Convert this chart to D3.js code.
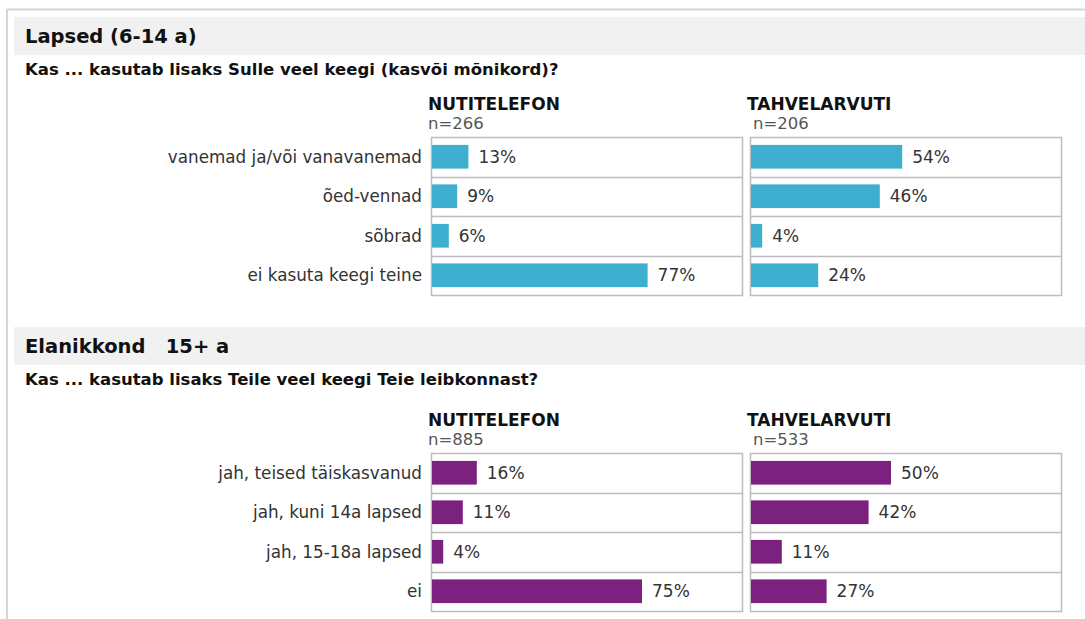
<!DOCTYPE html>
<meta charset="utf-8">
<style>
  body { margin: 0; background: #fff; }
  svg { display: block; font-family: "DejaVu Sans", Verdana, sans-serif; }
</style>
<svg width="1085" height="619"></svg>
<script src="https://d3js.org/d3.v7.min.js"></script>
<script>

var devices = ["NUTITELEFON", "TAHVELARVUTI"];

var kidsTitle = "Lapsed (6-14 a)",
    kidsQuestion = "Kas ... kasutab lisaks Sulle veel keegi (kasvõi mõnikord)?",
    kidsCategories = ["vanemad ja/või vanavanemad", "õed-vennad", "sõbrad", "ei kasuta keegi teine"],
    kidsN = [266, 206],
    kidsPhone = [13, 9, 6, 77],
    kidsTablet = [54, 46, 4, 24];

var adultTitle = "Elanikkond\u00a0\u00a0 15+ a",
    adultQuestion = "Kas ... kasutab lisaks Teile veel keegi Teie leibkonnast?",
    adultCategories = ["jah, teised täiskasvanud", "jah, kuni 14a lapsed", "jah, 15-18a lapsed", "ei"],
    adultN = [885, 533],
    adultPhone = [16, 11, 4, 75],
    adultTablet = [50, 42, 11, 27];

var svg = d3.select("svg"),
    width = +svg.attr("width"),
    height = +svg.attr("height");

// outer frame (top + left edges only visible)
svg.append("line").attr("x1", 7).attr("x2", width).attr("y1", 9.5).attr("y2", 9.5)
    .attr("stroke", "#d6d6d6").attr("stroke-width", 2);
svg.append("line").attr("x1", 7).attr("x2", 7).attr("y1", 9).attr("y2", height)
    .attr("stroke", "#d6d6d6").attr("stroke-width", 2);

var x = d3.scaleLinear().domain([0, 100]).range([0, 280]);

var panelX = [431, 750],
    boxW = 311,
    boxH = 158;

drawSection({
  title: kidsTitle, question: kidsQuestion, categories: kidsCategories,
  n: kidsN, values: [kidsPhone, kidsTablet], color: "#3eafcf",
  bandTop: 17, boxTop: 137
});

drawSection({
  title: adultTitle, question: adultQuestion, categories: adultCategories,
  n: adultN, values: [adultPhone, adultTablet], color: "#7b217e",
  bandTop: 327, boxTop: 453
});

function drawSection(s) {
  var g = svg.append("g");

  g.append("rect")
      .attr("x", 14).attr("y", s.bandTop)
      .attr("width", width - 14).attr("height", 38)
      .attr("fill", "#f1f1f1");

  g.append("text")
      .attr("x", 25).attr("y", s.bandTop + 26)
      .attr("font-size", 19.5).attr("font-weight", "bold").attr("fill", "#111")
      .text(s.title);

  g.append("text")
      .attr("x", 25).attr("y", s.bandTop + 58)
      .attr("font-size", 16.5).attr("font-weight", "bold").attr("fill", "#111")
      .text(s.question);

  var rows = d3.scaleBand().domain(s.categories)
      .range([s.boxTop, s.boxTop + boxH]);
  var y = d3.scaleBand().domain(s.categories)
      .range([s.boxTop, s.boxTop + boxH])
      .paddingInner(0.4).paddingOuter(0.2);

  // category labels
  g.append("g").selectAll("text")
    .data(s.categories)
    .join("text")
      .attr("x", 422)
      .attr("y", function(d) { return y(d) + y.bandwidth() / 2; })
      .attr("dy", "0.36em")
      .attr("text-anchor", "end")
      .attr("font-size", 16.8).attr("fill", "#333")
      .text(function(d) { return d; });

  devices.forEach(function(dev, i) {
    var px = panelX[i];
    var p = g.append("g");

    p.append("text")
        .attr("x", px - 3).attr("y", s.boxTop - 27)
        .attr("font-size", 17).attr("font-weight", "bold").attr("fill", "#111")
        .text(dev);
    p.append("text")
        .attr("x", px - 3 + (i ? 6 : 0)).attr("y", s.boxTop - 8)
        .attr("font-size", 16.5).attr("fill", "#555")
        .text("n=" + s.n[i]);

    p.append("rect")
        .attr("x", px + 0.5).attr("y", s.boxTop + 0.5)
        .attr("width", boxW).attr("height", boxH)
        .attr("fill", "#fff").attr("stroke", "#bdbdbd").attr("stroke-width", 1.5);

    p.selectAll("line.sep")
      .data(s.categories.slice(1))
      .join("line")
        .attr("class", "sep")
        .attr("x1", px).attr("x2", px + boxW)
        .attr("y1", function(d) { return Math.round(rows(d)) + 0.5; })
        .attr("y2", function(d) { return Math.round(rows(d)) + 0.5; })
        .attr("stroke", "#bdbdbd").attr("stroke-width", 1.5);

    var data = s.categories.map(function(c, j) { return {cat: c, v: s.values[i][j]}; });

    p.selectAll("rect.bar")
      .data(data)
      .join("rect")
        .attr("class", "bar")
        .attr("x", px + 1)
        .attr("y", function(d) { return y(d.cat); })
        .attr("width", function(d) { return x(d.v); })
        .attr("height", y.bandwidth())
        .attr("fill", s.color);

    p.selectAll("text.val")
      .data(data)
      .join("text")
        .attr("class", "val")
        .attr("x", function(d) { return px + 1 + x(d.v) + 10; })
        .attr("y", function(d) { return y(d.cat) + y.bandwidth() / 2; })
        .attr("dy", "0.36em")
        .attr("font-size", 17).attr("fill", "#333")
        .text(function(d) { return d.v + "%"; });
  });
}

</script>
